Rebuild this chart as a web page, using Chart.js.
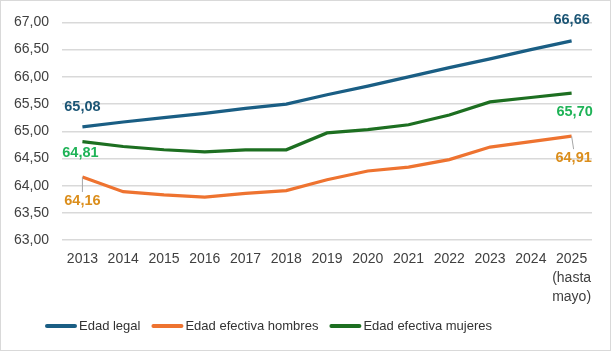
<!DOCTYPE html>
<html>
<head>
<meta charset="utf-8">
<script src="https://cdn.jsdelivr.net/npm/chart.js@4"></script>
<style>
  body { margin: 0; background: #fff; }
  #wrap { position: relative; width: 609px; height: 349px; border: 1px solid #d9d9d9; }
</style>
</head>
<body>
<div id="wrap"><canvas id="myChart"></canvas></div>
<script>
// data
const years = ["2013", "2014", "2015", "2016", "2017", "2018", "2019", "2020", "2021", "2022", "2023", "2024", ["2025", "(hasta", "mayo)"]];
const edadLegal = [65.08, 65.17, 65.25, 65.33, 65.42, 65.5, 65.67, 65.83, 66.0, 66.17, 66.33, 66.5, 66.66];
const edadHombres = [64.16, 63.89, 63.83, 63.79, 63.86, 63.91, 64.11, 64.27, 64.34, 64.48, 64.71, 64.81, 64.91];
const edadMujeres = [64.81, 64.72, 64.66, 64.62, 64.66, 64.66, 64.97, 65.03, 65.12, 65.3, 65.54, 65.62, 65.70];
const yTicks = [63, 63.5, 64, 64.5, 65, 65.5, 66, 66.5, 67];

const FONT = "'Liberation Sans', Arial, sans-serif";

function fmt(v) {
  return v.toFixed(2).replace(".", ",");
}

// labels for the first and last points: dataset, index, offset x, offset y, colour, leader line
const pointLabels = [
  { ds: 0, i: 0, dx: 0, dy: -20, color: "#1b5575" },
  { ds: 0, i: 12, dx: 0, dy: -21, color: "#1b5575" },
  { ds: 2, i: 0, dx: -2, dy: 11, color: "#1fb357" },
  { ds: 2, i: 12, dx: 3, dy: 19, color: "#1fb357" },
  { ds: 1, i: 0, dx: 0, dy: 24, color: "#db8e1c", leader: true },
  { ds: 1, i: 12, dx: 2, dy: 22, color: "#db8e1c", leader: true },
];

const labelPlugin = {
  id: "pointLabels",
  afterDatasetsDraw(chart) {
    const ctx = chart.ctx;
    ctx.save();
    ctx.font = "bold 14.5px " + FONT;
    ctx.textAlign = "center";
    ctx.textBaseline = "middle";
    pointLabels.forEach(function (l) {
      const pt = chart.getDatasetMeta(l.ds).data[l.i];
      const value = chart.data.datasets[l.ds].data[l.i];
      const x = pt.x + l.dx;
      const y = pt.y + l.dy;
      if (l.leader) {
        ctx.strokeStyle = "#a6a6a6";
        ctx.lineWidth = 1;
        ctx.beginPath();
        ctx.moveTo(pt.x, pt.y);
        ctx.lineTo(pt.x + l.dx, y - 9);
        ctx.stroke();
      }
      ctx.fillStyle = l.color;
      ctx.fillText(fmt(value), x, y);
    });
    ctx.restore();
  },
};

// legend drawn like the Excel one: short thick line, then the name, left of centre
const legendPlugin = {
  id: "bottomLegend",
  afterDraw(chart) {
    const ctx = chart.ctx;
    ctx.save();
    ctx.font = "13px " + FONT;
    ctx.textBaseline = "middle";
    let x = 46;
    const y = 325;
    chart.data.datasets.forEach(function (ds) {
      ctx.strokeStyle = ds.borderColor;
      ctx.lineWidth = 4;
      ctx.lineCap = "round";
      ctx.beginPath();
      ctx.moveTo(x, y);
      ctx.lineTo(x + 28, y);
      ctx.stroke();
      x += 32;
      ctx.fillStyle = "#333";
      ctx.fillText(ds.label, x, y);
      x += ctx.measureText(ds.label).width + 13;
    });
    ctx.restore();
  },
};

const ctx = document.getElementById("myChart");

new Chart(ctx, {
  type: "line",
  data: {
    labels: years,
    datasets: [
      {
        label: "Edad legal",
        data: edadLegal,
        borderColor: "#1a5e84",
        backgroundColor: "#1a5e84",
        borderWidth: 3.2,
        pointRadius: 0,
      },
      {
        label: "Edad efectiva hombres",
        data: edadHombres,
        borderColor: "#ee7330",
        backgroundColor: "#ee7330",
        borderWidth: 3.2,
        pointRadius: 0,
      },
      {
        label: "Edad efectiva mujeres",
        data: edadMujeres,
        borderColor: "#1d6f21",
        backgroundColor: "#1d6f21",
        borderWidth: 3.2,
        pointRadius: 0,
      },
    ],
  },
  options: {
    responsive: true,
    maintainAspectRatio: false,
    animation: false,
    layout: { padding: { top: 6, right: 18, left: 0, bottom: 42 } },
    scales: {
      x: {
        offset: true,
        grid: { display: false },
        border: { display: false },
        ticks: {
          color: "#404040",
          font: { size: 14, family: FONT, lineHeight: 1.33 },
          padding: 2,
          maxRotation: 0,
          autoSkip: false,
        },
      },
      y: {
        min: 63,
        max: 67,
        afterBuildTicks(axis) {
          axis.ticks = yTicks.map(function (v) { return { value: v }; });
        },
        grid: { color: "#d9d9d9", lineWidth: 1.5, drawTicks: false },
        border: { display: false },
        ticks: {
          color: "#404040",
          font: { size: 14, family: FONT },
          padding: 13,
          callback: function (v) { return fmt(v); },
        },
      },
    },
    plugins: {
      legend: { display: false },
      tooltip: { enabled: false },
    },
  },
  plugins: [labelPlugin, legendPlugin],
});
</script>
</body>
</html>
